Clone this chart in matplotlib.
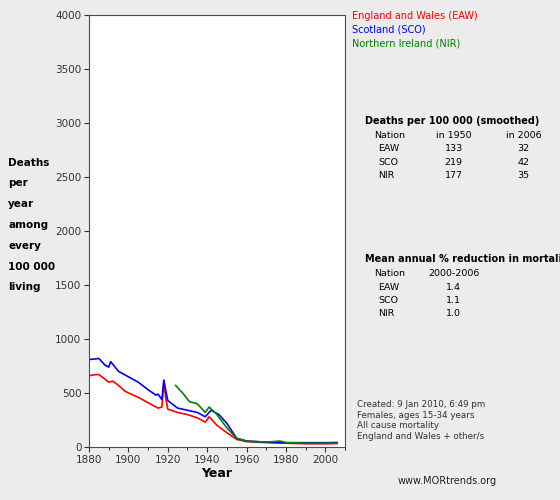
import matplotlib
matplotlib.use("Agg")
import matplotlib.pyplot as plt

# Values (deaths per 100 000, smoothed)
eaw_years = [1880, 1883, 1885, 1888, 1890, 1892, 1895, 1898, 1900, 1905, 1910, 1915, 1917, 1918, 1919, 1920,
             1925, 1930, 1935, 1939, 1941, 1945, 1950, 1955, 1960, 1970, 1980, 1990, 2000, 2006]
eaw_vals = [660, 670, 670, 630, 600, 610, 570, 520, 500, 460, 410, 360, 370, 600, 450, 350,
            320, 300, 270, 230, 280, 200, 133, 70, 50, 40, 35, 30, 30, 32]
sco_years = [1880, 1883, 1885, 1888, 1890, 1891, 1895, 1900, 1905, 1910, 1914, 1915, 1917, 1918, 1919, 1920,
             1925, 1930, 1935, 1939, 1942, 1946, 1950, 1955, 1960, 1970, 1980, 1990, 2000, 2006]
sco_vals = [810, 815, 820, 760, 740, 790, 700, 650, 600, 530, 480, 490, 440, 620, 520, 430,
            360, 340, 320, 280, 340, 300, 219, 80, 55, 45, 40, 40, 40, 42]
nir_years = [1924, 1928, 1931, 1935, 1939, 1941, 1945, 1950, 1955, 1960, 1970, 1977, 1980, 1990, 2006]
nir_vals = [570, 490, 420, 400, 320, 370, 300, 177, 80, 55, 45, 55, 40, 35, 35]

fig = plt.figure(figsize=(5.6, 5.0), dpi=100, facecolor="#ececec")
ax = fig.add_axes([0.159, 0.106, 0.457, 0.864])
ax.plot(eaw_years, eaw_vals, color="red", lw=1.2)
ax.plot(sco_years, sco_vals, color="blue", lw=1.2)
ax.plot(nir_years, nir_vals, color="green", lw=1.2)
ax.set_xlim(1880, 2010)
ax.set_ylim(0, 4000)
ax.set_xticks(range(1880, 2001, 20))
ax.set_xticks(range(1880, 2011, 10), minor=True)
ax.set_yticks(range(0, 4001, 500))
ax.tick_params(labelsize=7.5, colors="#333333", direction="out", pad=2)
for s in ax.spines.values():
    s.set_color("#335555")
ax.set_xlabel("Year", fontsize=9, fontweight="bold", labelpad=2)

fs = 7
fig.text(0.015, 0.685, "Deaths\nper\nyear\namong\nevery\n100 000\nliving", fontsize=7.5,
         fontweight="bold", va="top", linespacing=2.35)
fig.text(0.628, 0.962, "England and Wales (EAW)", color="red", fontsize=fs)
fig.text(0.628, 0.935, "Scotland (SCO)", color="blue", fontsize=fs)
fig.text(0.628, 0.908, "Northern Ireland (NIR)", color="green", fontsize=fs)

fig.text(0.652, 0.752, "Deaths per 100 000 (smoothed)", fontsize=fs, fontweight="bold")
rows = [("Nation", "in 1950", "in 2006"), ("EAW", "133", "32"), ("SCO", "219", "42"), ("NIR", "177", "35")]
for i, (a, b, c) in enumerate(rows):
    y = 0.725 - i * 0.027
    fig.text(0.668 if i == 0 else 0.676, y, a, fontsize=6.8)
    fig.text(0.81, y, b, fontsize=6.8, ha="center")
    fig.text(0.935, y, c, fontsize=6.8, ha="center")

fig.text(0.652, 0.475, "Mean annual % reduction in mortality", fontsize=fs, fontweight="bold")
rows2 = [("Nation", "2000-2006"), ("EAW", "1.4"), ("SCO", "1.1"), ("NIR", "1.0")]
for i, (a, b) in enumerate(rows2):
    y = 0.448 - i * 0.027
    fig.text(0.668 if i == 0 else 0.676, y, a, fontsize=6.8)
    fig.text(0.81, y, b, fontsize=6.8, ha="center")

fig.text(0.638, 0.2, "Created: 9 Jan 2010, 6:49 pm\nFemales, ages 15-34 years\nAll cause mortality\nEngland and Wales + other/s",
         fontsize=6.3, color="#333333", va="top", linespacing=1.25)
fig.text(0.71, 0.032, "www.MORtrends.org", fontsize=7, color="#222222")

fig.savefig("out.png", dpi=100, facecolor=fig.get_facecolor())
